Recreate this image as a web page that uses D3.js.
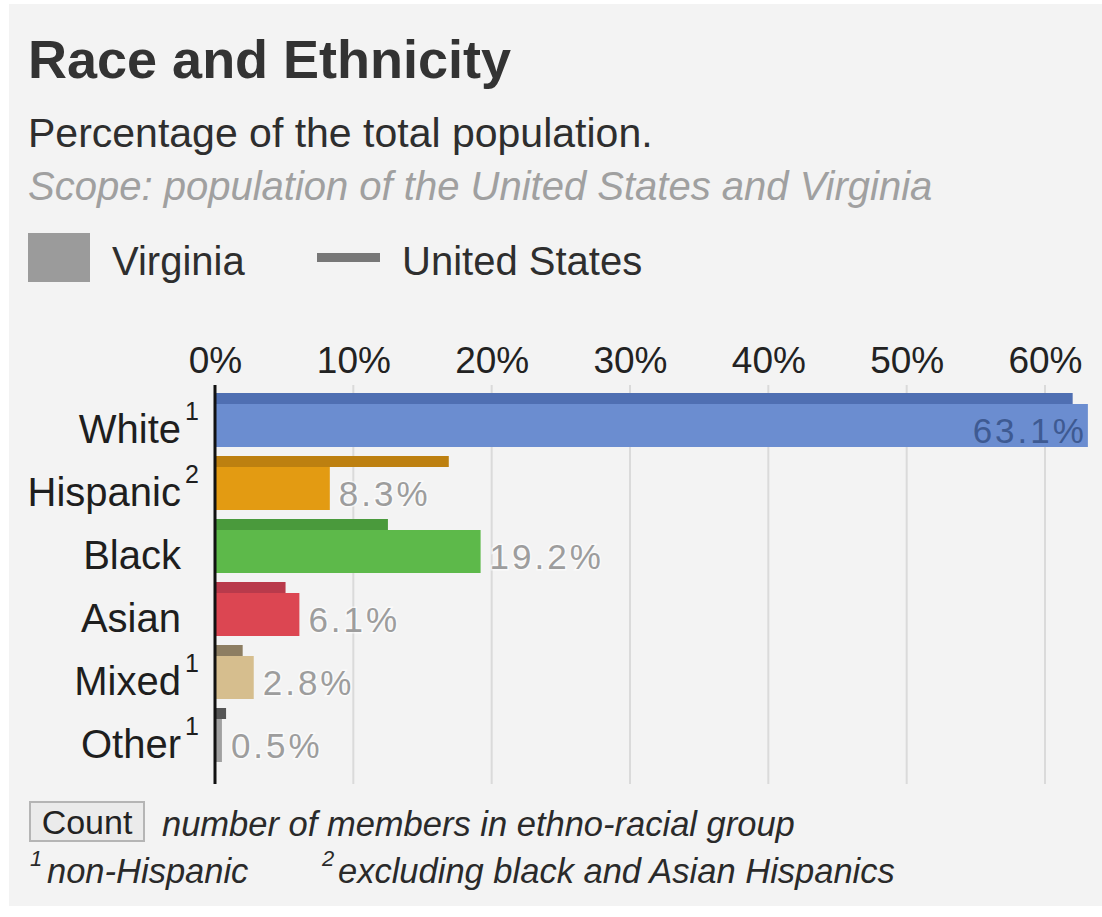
<!DOCTYPE html>
<html>
<head>
<meta charset="utf-8">
<script src="https://cdn.jsdelivr.net/npm/d3@7"></script>
<style>
  html, body { margin: 0; padding: 0; background: #ffffff; }
  svg { display: block; }
  text { font-family: "Liberation Sans", Arial, Helvetica, sans-serif; }
</style>
</head>
<body>
<svg id="chart" width="1102" height="917"></svg>
<script>
// Race and ethnicity shares, percent of total population
const categories = ["White", "Hispanic", "Black", "Asian", "Mixed", "Other"];
const footnoteMarks = ["1", "2", "", "", "1", "1"];
const virginiaValues = [63.1, 8.3, 19.2, 6.1, 2.8, 0.5];
const unitedStatesValues = [62.0, 16.9, 12.5, 5.1, 2.0, 0.8];
const tickValues = [0, 10, 20, 30, 40, 50, 60];

const virginiaColors = ["#6b8dd0", "#e39b12", "#5db94a", "#dc4652", "#d6be8e", "#a0a0a0"];
const usColors = ["#4f6fb2", "#bd8010", "#4a9a3c", "#b93a4b", "#8d7e62", "#555555"];

const svg = d3.select("#chart");

// panel background
svg.append("rect")
  .attr("x", 9).attr("y", 4)
  .attr("width", 1093).attr("height", 902)
  .attr("fill", "#f3f3f3");

// heading block
svg.append("text")
  .attr("x", 28).attr("y", 78)
  .attr("font-size", 54).attr("font-weight", "bold")
  .attr("fill", "#333")
  .text("Race and Ethnicity");

svg.append("text")
  .attr("x", 28).attr("y", 147)
  .attr("font-size", 41)
  .attr("fill", "#2e2e2e")
  .text("Percentage of the total population.");

svg.append("text")
  .attr("x", 28).attr("y", 200)
  .attr("font-size", 40).attr("font-style", "italic")
  .attr("fill", "#a0a0a0")
  .text("Scope: population of the United States and Virginia");

// legend
const legend = svg.append("g");
legend.append("rect")
  .attr("x", 28).attr("y", 233).attr("width", 62).attr("height", 49)
  .attr("fill", "#9b9b9b");
legend.append("text")
  .attr("x", 112).attr("y", 275).attr("font-size", 40).attr("fill", "#2e2e2e")
  .text("Virginia");
legend.append("rect")
  .attr("x", 317).attr("y", 253).attr("width", 63).attr("height", 9)
  .attr("fill", "#777");
legend.append("text")
  .attr("x", 402).attr("y", 275).attr("font-size", 40).attr("fill", "#2e2e2e")
  .text("United States");

// scales
const x = d3.scaleLinear().domain([0, 60]).range([215, 1045]);
const y = d3.scaleBand().domain(categories).range([390, 768]).paddingInner(0).paddingOuter(0);

const plotTop = 385, plotBottom = 784;

// vertical grid
svg.append("g")
  .selectAll("line")
  .data(tickValues.filter(d => d > 0))
  .join("line")
  .attr("x1", d => x(d)).attr("x2", d => x(d))
  .attr("y1", plotTop).attr("y2", plotBottom)
  .attr("stroke", "#dadada").attr("stroke-width", 2);

// top axis labels
const axisTop = d3.axisTop(x)
  .tickValues(tickValues)
  .tickFormat(d => d + "%")
  .tickSize(0)
  .tickPadding(0);
const axisG = svg.append("g")
  .attr("transform", "translate(0,373)")
  .call(axisTop);
axisG.select(".domain").remove();
axisG.selectAll("text")
  .attr("font-family", "Liberation Sans, Arial, sans-serif")
  .attr("font-size", 37)
  .attr("fill", "#222")
  .attr("dy", 0);

const rows = categories.map((c, i) => ({
  cat: c, mark: footnoteMarks[i],
  va: virginiaValues[i], us: unitedStatesValues[i],
  vc: virginiaColors[i], uc: usColors[i]
}));

// Virginia bars
svg.append("g")
  .selectAll("rect")
  .data(rows)
  .join("rect")
  .attr("x", x(0))
  .attr("y", d => y(d.cat) + 14)
  .attr("width", d => x(d.va) - x(0))
  .attr("height", 43)
  .attr("fill", d => d.vc);

// United States bars
svg.append("g")
  .selectAll("rect")
  .data(rows)
  .join("rect")
  .attr("x", x(0))
  .attr("y", d => y(d.cat) + 3)
  .attr("width", d => x(d.us) - x(0))
  .attr("height", 11)
  .attr("fill", d => d.uc);

// value labels for Virginia
svg.append("g")
  .selectAll("text")
  .data(rows)
  .join("text")
  .attr("x", d => x(d.va) > 950 ? x(d.va) - 1 : x(d.va) + 9)
  .attr("y", d => y(d.cat) + 53)
  .attr("text-anchor", d => x(d.va) > 950 ? "end" : "start")
  .attr("font-size", 35)
  .attr("letter-spacing", 3)
  .attr("fill", d => x(d.va) > 950 ? "#3e5a92" : "#9d9d9d")
  .attr("stroke", d => x(d.va) > 950 ? "none" : "#ffffff")
  .attr("stroke-opacity", 0.6)
  .attr("stroke-width", 3)
  .attr("paint-order", "stroke")
  .text(d => d.va.toFixed(1) + "%");

// category labels with footnote marks
const catG = svg.append("g");
catG.selectAll("text.cat")
  .data(rows)
  .join("text")
  .attr("class", "cat")
  .attr("x", 181)
  .attr("y", d => y(d.cat) + 53)
  .attr("text-anchor", "end")
  .attr("font-size", 40)
  .attr("fill", "#1e1e1e")
  .text(d => d.cat);
catG.selectAll("text.mark")
  .data(rows.filter(d => d.mark))
  .join("text")
  .attr("class", "mark")
  .attr("x", 185)
  .attr("y", d => y(d.cat) + 30)
  .attr("font-size", 25)
  .attr("fill", "#1e1e1e")
  .text(d => d.mark);

// zero axis line
svg.append("line")
  .attr("x1", x(0)).attr("x2", x(0))
  .attr("y1", plotTop).attr("y2", plotBottom)
  .attr("stroke", "#111").attr("stroke-width", 3);

// footnotes
const foot = svg.append("g");
foot.append("rect")
  .attr("x", 30).attr("y", 802).attr("width", 114).attr("height", 39)
  .attr("fill", "#ebebeb").attr("stroke", "#b5b5b5").attr("stroke-width", 2);
foot.append("text")
  .attr("x", 87).attr("y", 834).attr("text-anchor", "middle")
  .attr("font-size", 34).attr("fill", "#222")
  .text("Count");
foot.append("text")
  .attr("x", 162).attr("y", 836)
  .attr("font-size", 34.5).attr("font-style", "italic").attr("fill", "#2a2a2a")
  .text("number of members in ethno-racial group");
foot.append("text")
  .attr("x", 30).attr("y", 866)
  .attr("font-size", 22).attr("font-style", "italic").attr("fill", "#2a2a2a")
  .text("1");
foot.append("text")
  .attr("x", 47).attr("y", 883)
  .attr("font-size", 34.5).attr("font-style", "italic").attr("fill", "#2a2a2a")
  .text("non-Hispanic");
foot.append("text")
  .attr("x", 322).attr("y", 866)
  .attr("font-size", 22).attr("font-style", "italic").attr("fill", "#2a2a2a")
  .text("2");
foot.append("text")
  .attr("x", 338).attr("y", 883)
  .attr("font-size", 34.5).attr("font-style", "italic").attr("fill", "#2a2a2a")
  .text("excluding black and Asian Hispanics");
</script>
</body>
</html>
